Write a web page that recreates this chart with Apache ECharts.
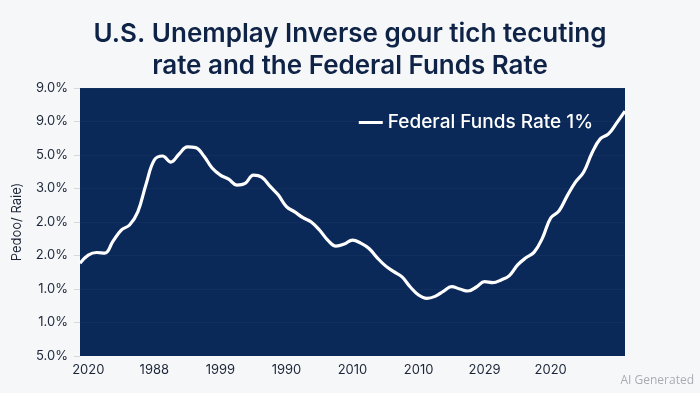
<!DOCTYPE html>
<html>
<head>
<meta charset="utf-8">
<script src="https://cdn.jsdelivr.net/npm/echarts@6/dist/echarts.min.js"></script>
<style>
html,body{margin:0;padding:0;background:#f6f7f9;}
#c{width:700px;height:393px;}
</style>
</head>
<body>
<div id="c"></div>
<script>
const xTickLabels = ["2020","1988","1999","1990","2010","2010","2029","2020"];
const yTickLabels = ["5.0%","1.0%","1.0%","2.0%","2.0%","3.0%","5.0%","9.0%","9.0%"];
const seriesName = "Federal Funds Rate 1%";
const rateValues = [
  2.77,3.01,3.09,3.07,3.43,3.76,3.91,4.30,5.13,5.85,
  5.97,5.79,6.03,6.24,6.22,5.97,5.61,5.40,5.28,5.10,
  5.15,5.40,5.34,5.07,4.81,4.46,4.30,4.13,4.00,3.76,
  3.46,3.28,3.34,3.46,3.37,3.21,2.93,2.69,2.52,2.36,
  2.06,1.82,1.72,1.78,1.93,2.07,2.00,1.94,2.06,2.22,
  2.19,2.27,2.40,2.72,2.93,3.10,3.52,4.12,4.33,4.78,
  5.19,5.49,6.06,6.48,6.63,6.96,7.31
];
const LABEL_STEP = 8, LABEL_OFFSET = 1;
const categories = rateValues.map((v, i) => {
  const k = i - LABEL_OFFSET;
  return (k >= 0 && k % LABEL_STEP === 0 && xTickLabels[k / LABEL_STEP]) ? xTickLabels[k / LABEL_STEP] : "";
});

const chart = echarts.init(document.getElementById('c'));
chart.setOption({
  backgroundColor: '#f6f7f9',
  animation: false,
  title: {
    text: 'U.S. Unemplay Inverse gour tich tecuting\nrate and the Federal Funds Rate',
    left: 'center',
    top: 13,
    textStyle: {fontFamily: 'Inter', fontWeight: 600, fontSize: 26, color: '#0f2347', lineHeight: 32}
  },
  graphic: [{
    type: 'text', right: 6, bottom: 6,
    style: {text: 'AI Generated', fill: '#a9adb3', font: '12px "Open Sans"'}
  }],
  legend: {
    data: [seriesName],
    right: 102, top: 108,
    icon: 'rect', itemWidth: 24, itemHeight: 3, itemGap: 8,
    textStyle: {color: '#ffffff', fontFamily: 'Inter', fontWeight: 500, fontSize: 19}
  },
  grid: {left: 80, right: 75, top: 88, bottom: 37, show: true, backgroundColor: '#0a2858', borderWidth: 0},
  xAxis: {
    type: 'category', data: categories, boundaryGap: false,
    axisLine: {show: false}, axisTick: {show: false},
    axisLabel: {
      interval: (i) => (i - LABEL_OFFSET) >= 0 && (i - LABEL_OFFSET) % LABEL_STEP === 0,
      color: '#1c2638', fontFamily: 'Inter', fontSize: 13, margin: 8
    },
    splitLine: {show: false}
  },
  yAxis: {
    type: 'value', min: 0, max: 8, interval: 1,
    name: 'Pedoo/ Raie)', nameLocation: 'middle', nameGap: 56, nameRotate: 90,
    nameTextStyle: {color: '#1c2638', fontFamily: 'Inter', fontSize: 13},
    axisLine: {show: false},
    axisTick: {show: true, length: 6, lineStyle: {color: '#d5d8dd'}},
    axisLabel: {formatter: (v) => yTickLabels[Math.round(v)], color: '#1c2638', fontFamily: 'Inter', fontSize: 13, margin: 12},
    splitLine: {show: true, lineStyle: {color: 'rgba(255,255,255,0.03)'}}
  },
  series: [{
    name: seriesName, type: 'line', data: rateValues, smooth: 0.4,
    showSymbol: false, symbol: 'none',
    lineStyle: {color: '#ffffff', width: 3.2},
    itemStyle: {color: '#ffffff'}
  }]
});
</script>
</body>
</html>
